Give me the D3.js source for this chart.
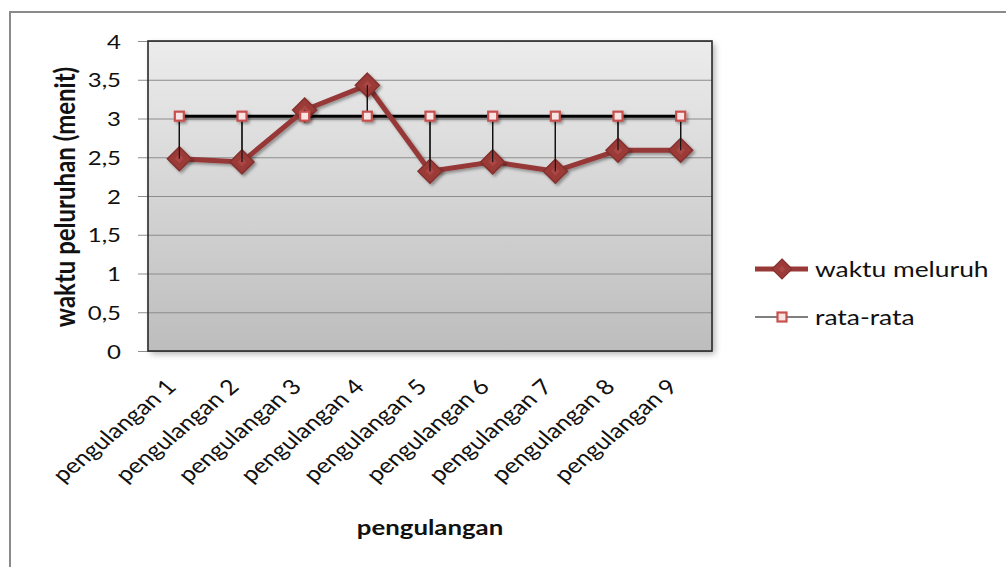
<!DOCTYPE html>
<html>
<head>
<meta charset="utf-8">
<script src="https://cdn.jsdelivr.net/npm/d3@7"></script>
<style>
  html, body { margin: 0; padding: 0; background: #fff; }
  svg { display: block; }
  text { font-family: Lato, "Open Sans", sans-serif; fill: #111; }
</style>
</head>
<body>
<svg id="chart" width="1006" height="567"></svg>
<script>
// Data
const categories = ["pengulangan 1", "pengulangan 2", "pengulangan 3", "pengulangan 4",
  "pengulangan 5", "pengulangan 6", "pengulangan 7", "pengulangan 8", "pengulangan 9"];
const waktuMeluruh = [2.48, 2.44, 3.11, 3.43, 2.32, 2.44, 2.32, 2.59, 2.59];
const rataRata = [3.03, 3.03, 3.03, 3.03, 3.03, 3.03, 3.03, 3.03, 3.03];
const yTicks = [0, 0.5, 1, 1.5, 2, 2.5, 3, 3.5, 4];
const seriesNames = ["waktu meluruh", "rata-rata"];
const xTitle = "pengulangan";
const yTitle = "waktu peluruhan (menit)";

// Horizontal stretch applied to all lettering
const SX = 1.2;

const svg = d3.select("#chart");
const plot = { left: 148, right: 712, top: 41, bottom: 351 };

const defs = svg.append("defs");
const grad = defs.append("linearGradient").attr("id", "plotBg")
  .attr("x1", 0).attr("y1", 0).attr("x2", 0).attr("y2", 1);
grad.append("stop").attr("offset", "0%").attr("stop-color", "#ececec");
grad.append("stop").attr("offset", "100%").attr("stop-color", "#bdbdbd");

// Drop shadows; the filter region is generous so that translated markers are not cut
function shadowFilter(id, dx, dy, sd, op) {
  const f = defs.append("filter").attr("id", id)
    .attr("filterUnits", "userSpaceOnUse")
    .attr("x", -1200).attr("y", -800).attr("width", 2400).attr("height", 1600);
  f.append("feDropShadow").attr("dx", dx).attr("dy", dy).attr("stdDeviation", sd)
    .attr("flood-color", "#000").attr("flood-opacity", op);
}
shadowFilter("shadow", 2, 2, 1.6, 0.35);
shadowFilter("boxShadow", 3, 3, 3, 0.3);

// Outer chart frame
svg.append("rect").attr("x", 10).attr("y", 12).attr("width", 1020).attr("height", 600)
  .attr("fill", "none").attr("stroke", "#8a8a8a").attr("stroke-width", 2);

// Scales
const x = d3.scaleBand().domain(categories).range([plot.left, plot.right]).padding(0);
const y = d3.scaleLinear().domain([0, 4]).range([plot.bottom, plot.top]);
const cx = d => x(d) + x.bandwidth() / 2;

// Plot area
svg.append("rect")
  .attr("x", plot.left).attr("y", plot.top)
  .attr("width", plot.right - plot.left).attr("height", plot.bottom - plot.top)
  .attr("fill", "url(#plotBg)").attr("filter", "url(#boxShadow)");

// Y axis with gridlines
const yAxis = svg.append("g").attr("transform", `translate(${plot.left},0)`)
  .call(d3.axisLeft(y).tickValues(yTicks)
    .tickSize(-(plot.right - plot.left))
    .tickFormat(d => String(d).replace(".", ",")));
yAxis.select(".domain").remove();
yAxis.selectAll(".tick line")
  .attr("x1", -10).attr("stroke", "#8c8c8c").attr("stroke-width", 1.2);
yAxis.selectAll(".tick text")
  .attr("x", 0).attr("dy", "0.36em")
  .attr("transform", `translate(-27,0) scale(${SX},1)`)
  .style("font-size", "20px").style("font-family", "Lato, sans-serif").attr("fill", "#111");

// Plot border
svg.append("rect")
  .attr("x", plot.left).attr("y", plot.top)
  .attr("width", plot.right - plot.left).attr("height", plot.bottom - plot.top)
  .attr("fill", "none").attr("stroke", "#2a2a2a").attr("stroke-width", 1.6);

// X axis labels, rotated
const xAxis = svg.append("g").attr("transform", `translate(0,${plot.bottom})`)
  .call(d3.axisBottom(x).tickSize(0));
xAxis.select(".domain").remove();
xAxis.selectAll(".tick text")
  .attr("text-anchor", "end")
  .attr("transform", `translate(-8,32) scale(${SX},1) rotate(-45)`)
  .attr("x", 0).attr("y", 0).attr("dy", "0.35em")
  .style("font-size", "21px").style("font-family", "Lato, sans-serif").attr("fill", "#111");

// High-low connectors between the two series
const connectors = sel => sel.selectAll("line").data(categories).join("line")
  .attr("x1", d => cx(d)).attr("x2", d => cx(d))
  .attr("y1", (d, i) => y(rataRata[i])).attr("y2", (d, i) => y(waktuMeluruh[i]))
  .attr("stroke", "#111").attr("stroke-width", 1.2);
svg.append("g").call(connectors);

// rata-rata series line
const lineGen = d3.line().x(d => cx(d[0])).y(d => y(d[1]));
svg.append("path")
  .datum(categories.map((c, i) => [c, rataRata[i]]))
  .attr("d", lineGen).attr("fill", "none")
  .attr("stroke", "#000").attr("stroke-width", 3).attr("filter", "url(#shadow)");

// waktu meluruh series line
svg.append("path")
  .datum(categories.map((c, i) => [c, waktuMeluruh[i]]))
  .attr("d", lineGen).attr("fill", "none")
  .attr("stroke", "#963937").attr("stroke-width", 5)
  .attr("stroke-linejoin", "round").attr("filter", "url(#shadow)");

const diamond = r => `M0,${-r}L${r},0L0,${r}L${-r},0Z`;
svg.append("g").selectAll("path").data(categories).join("path")
  .attr("transform", (d, i) => `translate(${cx(d)},${y(waktuMeluruh[i])})`)
  .attr("d", diamond(12)).attr("fill", "#9b3a38")
  .attr("stroke", "#84302e").attr("stroke-width", 1.5).attr("filter", "url(#shadow)");
svg.append("g").selectAll("path").data(categories).join("path")
  .attr("transform", (d, i) => `translate(${cx(d)},${y(waktuMeluruh[i])})`)
  .attr("d", diamond(4.5)).attr("fill", "#b4504d").attr("opacity", 0.6);

// Connectors again on top of the markers
svg.append("g").call(connectors);

// rata-rata markers
svg.append("g").selectAll("rect").data(categories).join("rect")
  .attr("x", d => cx(d) - 4.5).attr("y", (d, i) => y(rataRata[i]) - 4.5)
  .attr("width", 9).attr("height", 9)
  .attr("fill", "#f7e4e3").attr("stroke", "#c8504d").attr("stroke-width", 2.2)
  .attr("filter", "url(#shadow)");

// Axis titles
svg.append("text")
  .attr("transform", `translate(75,197) scale(${SX},1) rotate(-90)`)
  .attr("text-anchor", "middle")
  .style("font-size", "24px").style("font-weight", "bold")
  .text(yTitle);
svg.append("text")
  .attr("transform", `translate(430,535) scale(${SX},1)`)
  .attr("text-anchor", "middle")
  .style("font-size", "21.5px").style("font-weight", "bold")
  .text(xTitle);

// Legend
const legend = svg.append("g");
const ly = [269, 317];
legend.append("line").attr("x1", 755).attr("x2", 808).attr("y1", ly[0]).attr("y2", ly[0])
  .attr("stroke", "#963937").attr("stroke-width", 5);
legend.append("path").attr("transform", `translate(782,${ly[0]})`)
  .attr("d", diamond(10)).attr("fill", "#9b3a38").attr("stroke", "#84302e").attr("stroke-width", 1.2);
legend.append("path").attr("transform", `translate(782,${ly[0]})`)
  .attr("d", diamond(3.5)).attr("fill", "#b4504d").attr("opacity", 0.6);
legend.append("line").attr("x1", 755).attr("x2", 808).attr("y1", ly[1]).attr("y2", ly[1])
  .attr("stroke", "#000").attr("stroke-width", 1.2);
legend.append("rect").attr("x", 777.5).attr("y", ly[1] - 4.5).attr("width", 9).attr("height", 9)
  .attr("fill", "#f7e4e3").attr("stroke", "#c8504d").attr("stroke-width", 2.2);
legend.selectAll("text.lg").data(seriesNames).join("text")
  .attr("class", "lg")
  .attr("transform", (d, i) => `translate(815,${ly[i]}) scale(${SX},1)`)
  .attr("dy", "0.35em")
  .style("font-size", "22px")
  .text(d => d);
</script>
</body>
</html>
